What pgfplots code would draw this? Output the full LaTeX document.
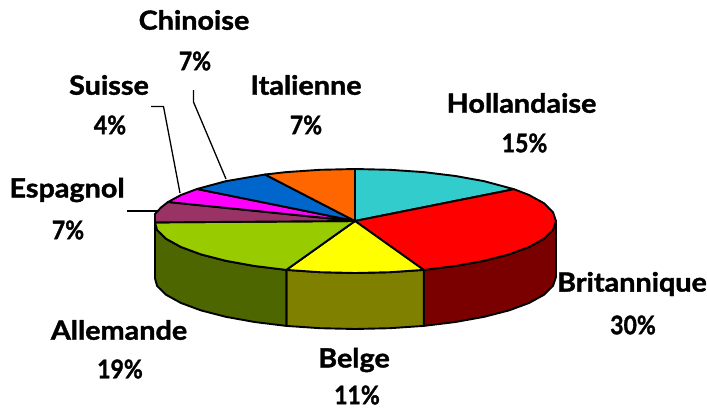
\documentclass[border=0pt]{standalone}
\usepackage{pgfplots}
\pgfplotsset{compat=1.18}
\usepackage{fontspec}
\setmainfont{Lato}[BoldFeatures={FakeStretch=1.09,FakeBold=1.5}]
\definecolor{cTurq}{HTML}{33CCCC}
\definecolor{cRed}{HTML}{FF0000}
\definecolor{cYel}{HTML}{FFFF00}
\definecolor{cLime}{HTML}{99CC00}
\definecolor{cPurp}{HTML}{993366}
\definecolor{cMag}{HTML}{FF00FF}
\definecolor{cBlue}{HTML}{0066CC}
\definecolor{cOra}{HTML}{FF6600}
\definecolor{dRed}{HTML}{7A0000}
\definecolor{dOli}{HTML}{808000}
\definecolor{dGre}{HTML}{4D6600}
\newcommand{\pc}[1]{\scalebox{0.8}[0.97]{#1\%}}
\begin{document}
\begin{tikzpicture}
\useasboundingbox (0,0) rectangle (707bp,408bp);
\begin{axis}[at={(0,0)},anchor=south west,scale only axis,width=707bp,height=408bp,
  xmin=0,xmax=707,ymin=0,ymax=408,y dir=reverse,hide axis,clip=false,
  every axis plot/.append style={line width=1.9bp,line join=round,draw=black}]
% side walls
\addplot[fill=dRed] coordinates {(556,221)(552.9,230)(543.9,238.8)(529,247)(509,254.4)(484.2,260.8)(455.5,266)(423.7,269.9)(423.7,325.9)(455.5,322)(484.2,316.8)(509,310.4)(529,303)(543.9,294.8)(552.9,286)(556,277)} -- cycle;
\addplot[fill=dOli] coordinates {(423.7,269.9)(389.9,272.2)(355,273)(320.1,272.2)(286.3,269.9)(286.3,325.9)(320.1,328.2)(355,329)(389.9,328.2)(423.7,325.9)} -- cycle;
\addplot[fill=dGre] coordinates {(286.3,269.9)(254.5,266)(225.8,260.8)(201,254.4)(181,247)(166.1,238.8)(157.1,230)(155,222.4)(155,278.4)(157.1,286)(166.1,294.8)(181,303)(201,310.4)(225.8,316.8)(254.5,322)(286.3,325.9)} -- cycle;
% top slices
\addplot[fill=cTurq] coordinates {(355,221)(355,169)(389.9,169.8)(423.7,172.1)(455.5,176)(484.2,181.2)(514,189.2)} -- cycle;
\addplot[fill=cRed] coordinates {(355,221)(514,189.2)(529,195)(543.9,203.2)(552.9,212)(556,221)(552.9,230)(543.9,238.8)(529,247)(509,254.4)(484.2,260.8)(455.5,266)(423.7,269.9)} -- cycle;
\addplot[fill=cYel] coordinates {(355,221)(423.7,269.9)(389.9,272.2)(355,273)(320.1,272.2)(286.3,269.9)} -- cycle;
\addplot[fill=cLime] coordinates {(355,221)(286.3,269.9)(254.5,266)(225.8,260.8)(201,254.4)(181,247)(166.1,238.8)(157.1,230)(155,222.4)} -- cycle;
\addplot[fill=cPurp] coordinates {(355,221)(155,222.4)(155,214)(161,207.5)(168,202)} -- cycle;
\addplot[fill=cMag] coordinates {(355,221)(168,202)(181,195)(197,189)} -- cycle;
\addplot[fill=cBlue] coordinates {(355,221)(197,189)(225.8,181.2)(265,174.5)} -- cycle;
\addplot[fill=cOra] coordinates {(355,221)(265,174.5)(286.3,172.1)(320.1,169.8)(355,169)} -- cycle;
% leaders
\addplot[line width=1.3bp] coordinates {(193.5,90)(193.5,102)(226,179)};
\addplot[line width=1.3bp] coordinates {(151,106.5)(163.5,106.5)(180,193)};
\addplot[line width=1.3bp] coordinates {(127,211)(157,211)};
% labels
\tikzset{lab/.style={font=\fontsize{26.5}{26.5}\selectfont\bfseries,anchor=center,inner sep=0pt}}
\node[lab] at (axis cs:194,20) {Chinoise};
\node[lab] at (axis cs:195,61) {\pc{7}};
\node[lab] at (axis cs:109,85) {Suisse};
\node[lab] at (axis cs:110,125) {\pc{4}};
\node[lab] at (axis cs:306,85) {Italienne};
\node[lab] at (axis cs:306,125) {\pc{7}};
\node[lab] at (axis cs:521.5,103) {Hollandaise};
\node[lab] at (axis cs:524.5,143) {\pc{15}};
\node[lab] at (axis cs:632,284) {Britannique};
\node[lab] at (axis cs:633,325) {\pc{30}};
\node[lab] at (axis cs:354,360) {Belge};
\node[lab] at (axis cs:357,395) {\pc{11}};
\node[lab] at (axis cs:119,330) {Allemande};
\node[lab] at (axis cs:120,369) {\pc{19}};
\node[lab] at (axis cs:67,190) {Espagnol};
\node[lab] at (axis cs:68,230) {\pc{7}};
\end{axis}
\end{tikzpicture}
\end{document}
